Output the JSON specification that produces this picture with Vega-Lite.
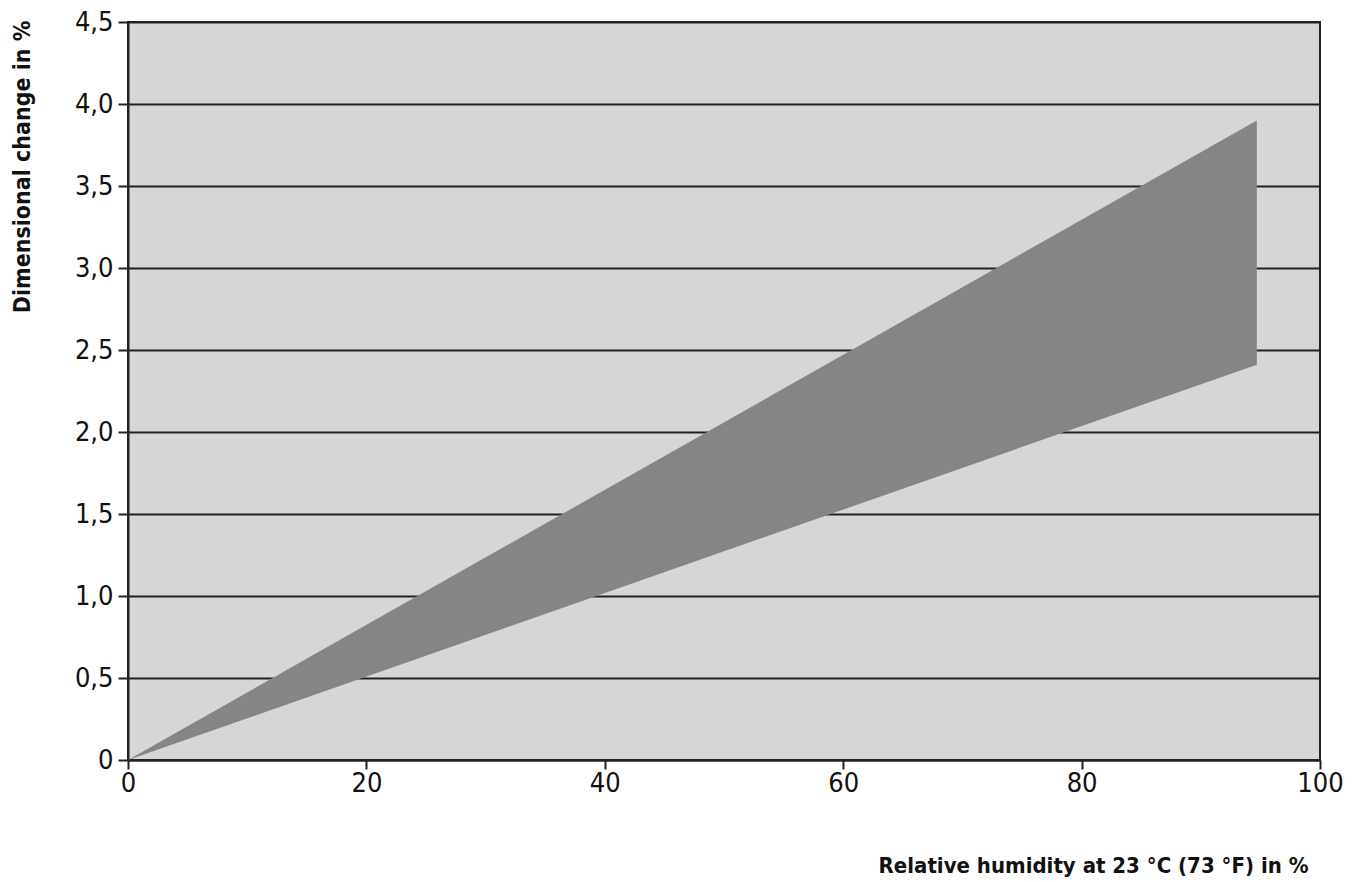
{
  "$schema": "https://vega.github.io/schema/vega-lite/v6.json",
  "width": 1192,
  "height": 738,
  "autosize": {"type": "none"},
  "padding": {"left": 128, "top": 22, "right": 40, "bottom": 122},
  "background": "white",
  "config": {
    "view": {"fill": "#d6d6d6", "stroke": "#222222", "strokeWidth": 2},
    "font": "'DejaVu Sans Condensed', 'Liberation Sans', sans-serif"
  },
  "data": {
    "values": [
      {"rh": 0, "upper": 0, "lower": 0},
      {"rh": 94.7, "upper": 3.9, "lower": 2.41}
    ]
  },
  "mark": {"type": "area", "color": "#858585", "opacity": 1},
  "encoding": {
    "x": {
      "field": "rh",
      "type": "quantitative",
      "scale": {"domain": [0, 100], "nice": false, "zero": false},
      "axis": {
        "title": "Relative humidity at 23 °C (73 °F) in %",
        "titleFont": "'DejaVu Sans Condensed', 'Liberation Sans', sans-serif",
        "titleFontWeight": "bold",
        "titleFontSize": 22,
        "titleColor": "#111111",
        "titleAnchor": "end",
        "titleAlign": "right",
        "titleBaseline": "middle",
        "titleX": 1180,
        "titleY": 105,
        "values": [0, 20, 40, 60, 80, 100],
        "grid": false,
        "domainColor": "#222222",
        "domainWidth": 2,
        "tickColor": "#222222",
        "tickWidth": 2,
        "tickSize": 9,
        "labelFont": "'DejaVu Sans Condensed', 'Liberation Sans', sans-serif",
        "labelFontSize": 27,
        "labelColor": "#111111",
        "labelPadding": 1,
        "labelFlush": false
      }
    },
    "y": {
      "field": "upper",
      "type": "quantitative",
      "scale": {"domain": [0, 4.5], "nice": false},
      "axis": {
        "title": "Dimensional change in %",
        "titleFont": "'DejaVu Sans Condensed', 'Liberation Sans', sans-serif",
        "titleFontWeight": "bold",
        "titleFontSize": 23,
        "titleColor": "#111111",
        "titleAngle": -90,
        "titleAnchor": "end",
        "titleAlign": "right",
        "titleBaseline": "middle",
        "titleX": -106,
        "titleY": -2,
        "values": [0, 0.5, 1, 1.5, 2, 2.5, 3, 3.5, 4, 4.5],
        "labelExpr": "datum.value == 0 ? '0' : replace(format(datum.value, '.1f'), '.', ',')",
        "grid": true,
        "gridColor": "#222222",
        "gridWidth": 2,
        "gridOpacity": 1,
        "domainColor": "#222222",
        "domainWidth": 2,
        "tickColor": "#222222",
        "tickWidth": 2,
        "tickSize": 10,
        "labelFont": "'DejaVu Sans Condensed', 'Liberation Sans', sans-serif",
        "labelFontSize": 27,
        "labelColor": "#111111",
        "labelPadding": 5,
        "labelFlush": false
      }
    },
    "y2": {"field": "lower"}
  }
}
